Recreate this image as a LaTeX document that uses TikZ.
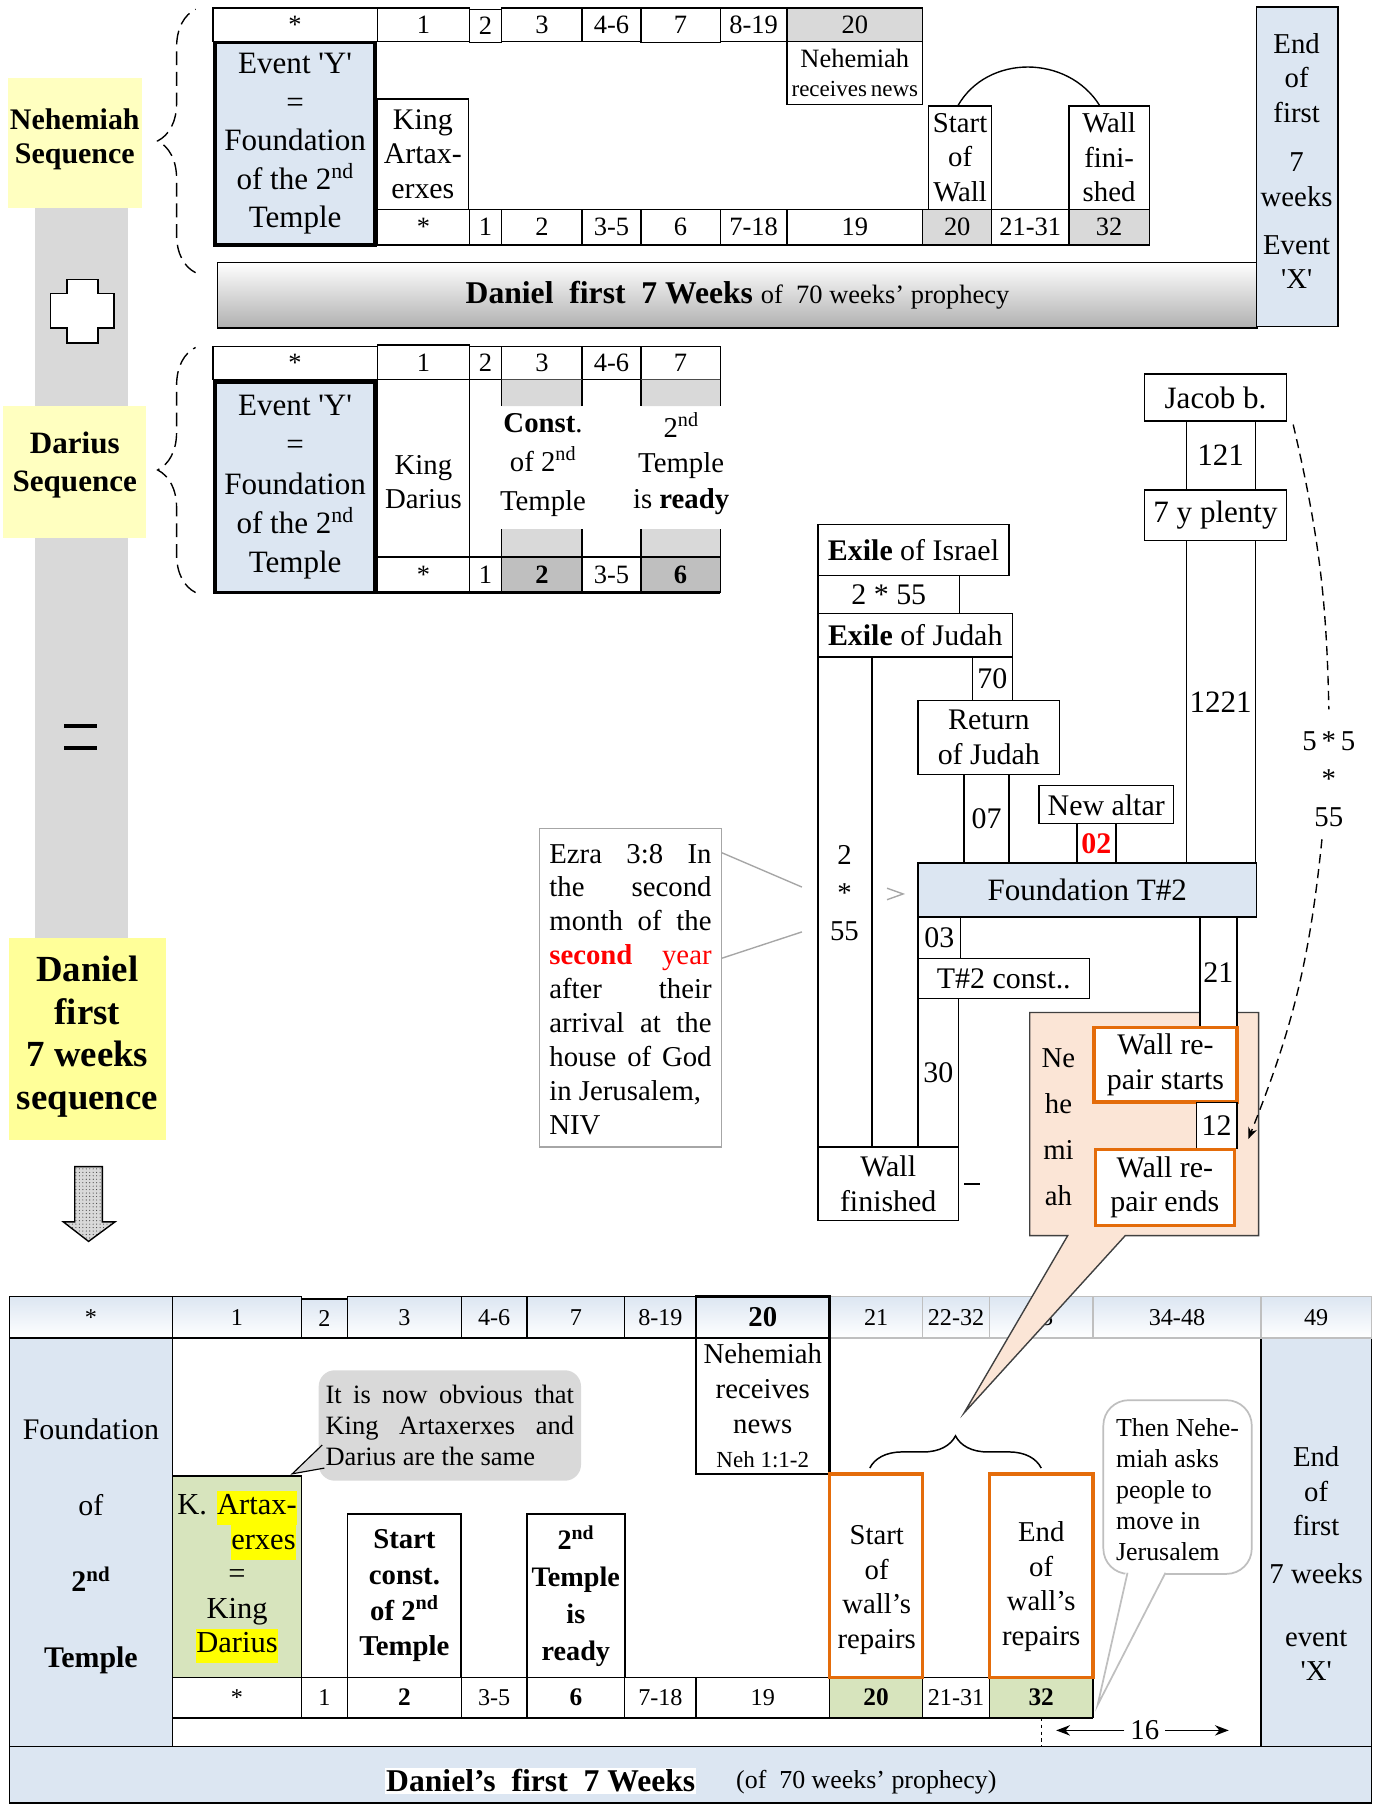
\documentclass[tikz,border=0pt]{standalone}
\usepackage{fontspec}
\setmainfont{Liberation Serif}
\usetikzlibrary{decorations.pathreplacing,patterns,arrows.meta}
\definecolor{lblue}{HTML}{DCE6F2}
\definecolor{yelA}{HTML}{FFFFC0}
\definecolor{yelB}{HTML}{FFFF99}
\definecolor{grA}{HTML}{D9D9D9}
\definecolor{grB}{HTML}{BFBFBF}
\definecolor{grC}{HTML}{A6A6A6}
\definecolor{gbot}{HTML}{B0B0B0}
\definecolor{peach}{HTML}{FBE5D6}
\definecolor{orng}{HTML}{E46C0A}
\definecolor{lgreen}{HTML}{D7E4BD}
\definecolor{hlyel}{HTML}{FFFF00}
\newcommand\fs[2]{\fontsize{#1}{#2}\selectfont}
\newcommand\tq{\textquotesingle}
\newcommand\hlt[1]{{\setlength{\fboxsep}{0pt}\colorbox{hlyel}{\strut #1}}}
\newcommand\jl[2]{\makebox[#1pt][s]{#2}}
\newcommand\cb[7][]{\node[box,minimum width={(#5-#3)*1pt},minimum height={(#6-#4)*1pt},#1] (#2) at ({(#3+#5)/2},{(#4+#6)/2}) {#7};}
\tikzset{
  box/.style={draw, line width=1.2pt, fill=white, inner sep=0pt, outer sep=0pt, align=center, font=\fs{25}{30}},
  hd/.style={font=\fs{23}{28}},
  thk/.style={line width=3pt},
  orb/.style={draw=orng, line width=3pt},
  txt/.style={inner sep=0pt, align=center, font=\fs{25}{30}},
  dbrace/.style={decorate, decoration={brace, amplitude=33pt}, dash pattern=on 12pt off 6pt, line width=1.2pt},
  hg/.style={top color=lblue, bottom color=white, font=\fs{21}{26}},
  brw/.style={font=\fs{21}{26}},
  brb/.style={font=\fs{22}{26}\bfseries},
  dsh/.style={dash pattern=on 8pt off 5pt, line width=1.2pt},
}
\begin{document}
\begin{tikzpicture}[x=1pt,y=-1pt]
\useasboundingbox (0,0) rectangle (1193,1568);
% ---------------- left column
\fill[grA] (30,181) rectangle (111,815);
\cb[draw=none,fill=yelA]{nehbox}{7}{68}{123}{181}{}
\node[txt,font=\fs{26}{30}\bfseries] (nehtx) at (65,121) {Nehemiah\\Sequence};
\cb[draw=none,fill=yelA]{darbox}{3}{353}{127}{468}{}
\node[txt,font=\fs{27}{33}\bfseries] (dartx) at (65,404) {Darius\\Sequence};
\cb[draw=none,fill=yelB]{danbox}{8}{815}{144}{991}{}
\node[txt,font=\fs{32}{37}\bfseries] (dantx) at (76,901) {Daniel\\first\\7 weeks\\sequence};
\draw[fill=white, line width=1.5pt] (58,243) -- (85,243) -- (85,255) -- (99,255) -- (99,285) -- (85,285) -- (85,298) -- (58,298) -- (58,285) -- (44,285) -- (44,255) -- (58,255) -- cycle;
\draw[line width=3pt] (56,631) -- (84,631) (56,650) -- (84,650);
\fill[grA] (65,1014) -- (89,1014) -- (89,1062) -- (100,1062) -- (77,1079) -- (55,1062) -- (65,1062) -- cycle;
\draw[pattern=dots, pattern color=black!75, line width=1.2pt] (65,1014) -- (89,1014) -- (89,1062) -- (100,1062) -- (77,1079) -- (55,1062) -- (65,1062) -- cycle;
% ---------------- top table (Nehemiah)
\draw[dbrace] (170,237) -- (170,8);
\cb[hd]{ah0}{185}{7}{328}{36}{*}
\cb[hd]{ah1}{328}{7}{408}{36}{1}
\cb[hd]{ah2}{408}{8}{436}{37}{2}
\cb[hd]{ah3}{436}{7}{506}{36}{3}
\cb[hd]{ah4}{506}{7}{557}{36}{4-6}
\cb[hd]{ah5}{557}{7}{626}{37}{7}
\cb[hd]{ah6}{626}{7}{684}{36}{8-19}
\cb[hd,fill=grA]{ah7}{684}{7}{802}{36}{20}
\cb[thk,fill=lblue,font=\fs{27}{33.5}]{aev}{187}{37}{326}{213}{Event \tq Y\tq\\=\\Foundation\\of the 2\textsuperscript{nd}\\Temple}
\cb[font=\fs{26}{30}]{aking}{328}{86}{407}{182}{King\\Artax-\\erxes}
\cb[font=\fs{23}{25}]{anr}{684}{36}{802}{91}{Nehemiah\\{\fs{20}{25}receives\,news}}
\cb{asw}{807}{92}{862}{182}{Start\\of\\Wall}
\cb{awf}{929}{92}{999}{182}{Wall\\fini-\\shed}
\draw[line width=1.2pt] ([xshift=-2pt]asw.north) .. controls (858,47) and (928,47) .. ([xshift=-8pt]awf.north);
\cb[hd]{ab0}{328}{182}{408}{213}{*}
\cb[hd]{ab1}{408}{182}{436}{213}{1}
\cb[hd]{ab2}{436}{182}{506}{213}{2}
\cb[hd]{ab3}{506}{182}{557}{213}{3-5}
\cb[hd]{ab4}{557}{182}{626}{213}{6}
\cb[hd]{ab5}{626}{182}{684}{213}{7-18}
\cb[hd]{ab6}{684}{182}{802}{213}{19}
\cb[hd,fill=grA]{ab7}{802}{182}{862}{213}{20}
\cb[hd]{ab8}{862}{182}{929}{213}{21-31}
\cb[hd,fill=grA]{ab9}{929}{182}{999}{213}{32}
\draw[line width=2.2pt] (ab0.south west) -- (ab9.south east);
\cb[top color=white, bottom color=gbot, font=\fs{27.5}{30}]{adan}{189}{228}{1093}{285}{{\bfseries Daniel\ \ first\ \ 7 Weeks} {\fs{23}{30}of\ \ 70 weeks’ prophecy}}
\cb[fill=lblue]{aend}{1092}{6}{1163}{284}{}
\node[txt] (aendtx) at (1127,140) {End\\of\\first\\[13pt]7\\weeks\\[12pt]Event\\\tq X\tq};
% ---------------- Darius table
\draw[dbrace] (170,515) -- (170,302);
\cb[hd]{bh0}{185}{301}{328}{330}{*}
\cb[hd]{bh1}{328}{300}{408}{330}{1}
\cb[hd]{bh2}{408}{301}{436}{330}{2}
\cb[hd]{bh3}{436}{301}{506}{330}{3}
\cb[hd]{bh4}{506}{301}{557}{330}{4-6}
\cb[hd]{bh5}{557}{301}{626}{330}{7}
\cb[thk,fill=lblue,font=\fs{27}{34}]{bev}{187}{332}{326}{515}{Event \tq Y\tq\\=\\Foundation\\of the 2\textsuperscript{nd}\\Temple}
\cb[fill=none]{bkd}{328}{330}{408}{484}{}
\node[txt] (bkdtx) at (368,419) {King\\Darius};
\fill[grA] (436,330) rectangle (506,353) (557,330) rectangle (626,353) (436,460) rectangle (506,484) (557,460) rectangle (626,484);
\draw[line width=1.2pt] (436,330) -- (436,353) (506,330) -- (506,353) (557,330) -- (557,353) (626,330) -- (626,353) (436,460) -- (436,484) (506,460) -- (506,484) (557,460) -- (557,484) (626,460) -- (626,484);
\node[txt,font=\fs{25}{34}] (bconst) at (472,404) {{\bfseries Const}.\\of 2\textsuperscript{nd}\\Temple};
\node[txt,font=\fs{25}{31}] (bready) at (592,403) {2\textsuperscript{nd}\\Temple\\is \textbf{ready}};
\cb[hd]{bb0}{328}{484}{408}{515}{*}
\cb[hd]{bb1}{408}{484}{436}{515}{1}
\cb[hd,fill=grB,font=\fs{23}{28}\bfseries]{bb2}{436}{484}{506}{515}{2}
\cb[hd]{bb3}{506}{484}{557}{515}{3-5}
\cb[hd,fill=grB,font=\fs{23}{28}\bfseries]{bb4}{557}{484}{626}{515}{6}
\draw[line width=2.2pt] (bb0.south west) -- (bb4.south east);
% ---------------- right chart
\cb[font=\fs{27}{30}]{jac}{995}{325}{1118}{366}{Jacob b.}
\cb[font=\fs{27}{30}]{c121}{1031}{366}{1091}{426}{121}
\cb[font=\fs{27}{30}]{plenty}{995}{426}{1118}{470}{7 y plenty}
\cb[font=\fs{27}{30}]{c1221}{1031}{470}{1091}{750}{1221}
\cb[font=\fs{26}{30}]{exisr}{711}{456}{877}{500}{\textbf{Exile} of Israel}
\cb[font=\fs{26}{30}]{c255}{711}{500}{834}{533}{2 * 55}
\cb[font=\fs{26}{30}]{exjud}{711}{533}{880}{571}{\textbf{Exile} of Judah}
\cb{c255v}{711}{571}{758}{997}{}
\node[txt,font=\fs{25}{33}] (c255vt) at (734,776) {2\\*\\55};
\cb[font=\fs{26}{30}]{c70}{845}{571}{880}{609}{70}
\cb[font=\fs{26}{30}]{retj}{798}{609}{921}{673}{Return\\of Judah}
\cb[font=\fs{26}{30}]{c07}{838}{673}{877}{750}{07}
\cb[font=\fs{26}{30}]{nalt}{903}{683}{1020}{716}{New altar}
\cb[font=\fs{26}{30}\bfseries, text=red]{c02}{936}{716}{970}{750}{02}
\cb[fill=lblue,font=\fs{27}{30}]{fnd}{798}{750}{1092}{797}{Foundation T\#2}
\cb[font=\fs{26}{30}]{c03}{798}{797}{835}{833}{03}
\cb[font=\fs{26}{30}]{tcon}{798}{833}{947}{868}{T\#2 const..}
\cb[font=\fs{26}{30}]{c30}{798}{868}{833}{997}{30}
\cb[font=\fs{26}{30}]{wfin}{711}{997}{833}{1061}{Wall\\finished}
\draw[line width=1.2pt] (838,1029) -- (852,1029);
\draw[grC, line width=1.2pt] (771,772) -- (785,777) -- (771,782);
% ---------------- Ezra callout
\cb[draw=grC, line width=1.5pt]{ezra}{469}{720}{627}{997}{}
\node[inner sep=0pt, align=left, font=\fs{25}{29.5}] (ezratx) at (548,860) {\jl{141}{Ezra\ \ 3:8\ \ In}\\\jl{141}{the second}\\\jl{141}{month of the}\\\jl{141}{{\color{red}\textbf{second} year}}\\\jl{141}{after their}\\\jl{141}{arrival at the}\\\jl{141}{house of God}\\in Jerusalem,\\NIV};
\coordinate (ezb1) at (627,741);
\coordinate (ezb2) at (627,833);
\coordinate (ezp1) at (697,771);
\coordinate (ezp2) at (697,810);
\draw[grC, line width=1.2pt] (ezb1) -- (ezp1);
\draw[grC, line width=1.2pt] (ezb2) -- (ezp2);
% ---------------- bottom table
\cb[fill=lblue]{blc}{8}{1163}{150}{1518}{}
\node[txt,font=\fs{26}{66}] (blctx) at (79,1344) {Foundation\\of\\\textbf{2\textsuperscript{nd}}\\\textbf{Temple}};
\cb[fill=lblue]{brc}{1096}{1163}{1192}{1518}{}
\node[txt] (brctx) at (1144,1359) {End\\of\\first\\[12pt]7 weeks\\[24pt]event\\\tq X\tq};
\cb[fill=lblue]{bbar}{8}{1518}{1192}{1567}{}
\node[fill=white, inner sep=1pt, font=\fs{27.5}{32}\bfseries] (bbartx) at (470,1548) {Daniel’s\ \ first\ \ 7 Weeks};
\node[inner sep=0pt, font=\fs{22.5}{28}] (bbartx2) at (753,1549) {(of\ \ 70 weeks’ prophecy)};
\cb[hg]{ch0}{8}{1127}{150}{1163}{*}
\cb[hg]{ch1}{150}{1127}{262}{1163}{1}
\cb[hg]{ch2}{262}{1129}{302}{1163}{2}
\cb[hg]{ch3}{302}{1127}{401}{1163}{3}
\cb[hg]{ch4}{401}{1127}{458}{1163}{4-6}
\cb[hg]{ch5}{458}{1127}{543}{1163}{7}
\cb[hg]{ch6}{543}{1127}{605}{1163}{8-19}
\cb[hg,draw=grB]{ch8}{721}{1127}{802}{1163}{21}
\cb[hg,draw=grB]{ch9}{802}{1127}{860}{1163}{22-32}
\cb[hg,draw=grB]{ch10}{860}{1127}{950}{1163}{33}
\cb[hg,draw=grB]{ch11}{950}{1127}{1096}{1163}{34-48}
\cb[hg,draw=grB]{ch12}{1096}{1127}{1192}{1163}{49}
\cb[hg,line width=2.2pt,font=\fs{25}{28}\bfseries]{ch7}{605}{1127}{721}{1163}{20}
\cb[line width=2.2pt]{cnr}{605}{1163}{721}{1281}{Nehemiah\\receives\\news\\{\fs{20}{26}Neh 1:1-2}}
\cb[fill=lgreen, line width=1.5pt, font=\fs{26.5}{30}, text width=104pt]{cka}{150}{1283}{262}{1458}{K. \hlt{Artax-}\\\hspace*{46pt}\hlt{erxes}\\=\\King\\\hlt{Darius}}
\node[fill=grA, rounded corners=14pt, minimum width=228pt, minimum height=96pt, inner sep=0pt, font=\fs{23}{27}, align=left] (obv) at (391,1239) {\jl{216}{It\ is now obvious that}\\\jl{216}{King Artaxerxes and}\\Darius are the same};
\coordinate (obvtip) at (254,1281);
\filldraw[fill=grA, draw=black, line width=1pt] (280,1256) -- (obvtip) -- (282,1276);
\cb[font=\fs{25}{31}\bfseries, line width=1.5pt]{csc}{302}{1316}{401}{1458}{Start\\const.\\of 2\textsuperscript{nd}\\Temple}
\cb[font=\fs{24.5}{32}\bfseries, line width=1.5pt]{ctr}{458}{1316}{543}{1458}{2\textsuperscript{nd}\\Temple\\is\\ready}
\cb[brw]{cb0}{150}{1458}{262}{1493}{*}
\cb[brw]{cb1}{262}{1458}{302}{1493}{1}
\cb[brb]{cb2}{302}{1458}{401}{1493}{2}
\cb[brw]{cb3}{401}{1458}{458}{1493}{3-5}
\cb[brb]{cb4}{458}{1458}{543}{1493}{6}
\cb[brw]{cb5}{543}{1458}{605}{1493}{7-18}
\cb[brw]{cb6}{605}{1458}{721}{1493}{19}
\cb[brb,fill=lgreen]{cb7}{721}{1458}{802}{1493}{20}
\cb[brw]{cb8}{802}{1458}{860}{1493}{21-31}
\cb[brb,fill=lgreen]{cb9}{860}{1458}{950}{1493}{32}
\draw[line width=2pt] (cb0.south west) -- (cb9.south east);
\cb[orb]{csw}{721}{1281}{802}{1458}{}
\node[txt] (cswtx) at (762,1382) {Start\\of\\wall’s\\repairs};
\cb[orb]{cew}{860}{1281}{950}{1458}{}
\node[txt] (cewtx) at (905,1379) {End\\of\\wall’s\\repairs};
\coordinate (brl) at (756,1276);
\coordinate (brr) at (905,1276);
\draw[decorate, decoration={brace, amplitude=28pt}, line width=1.3pt] (brl) -- (brr);
\node[draw=grB, fill=white, line width=1.5pt, rounded corners=22pt, minimum width=129pt, minimum height=151pt, inner sep=0pt] (thn) at (1023.5,1292.5) {};
\node[inner sep=0pt, align=left, font=\fs{22.5}{27}] (thntx) at (1023.5,1295) {Then Nehe-\\miah asks\\people to\\move in\\Jerusalem};
\coordinate (thntip) at (954,1482);
\fill[white] (979,1364) -- (thntip) -- (1015,1364) -- cycle;
\draw[grB, line width=1.5pt] (980,1367) -- (thntip) -- (1013,1367);
\draw[dashed, line width=1pt] (cb9.south) -- (cb9.south |- bbar.north);
\node[inner sep=5pt, font=\fs{25}{30}] (n16) at (995,1504) {16};
\coordinate (a16l) at (918,1504);
\coordinate (a16r) at (1068,1504);
\draw[-{Stealth[length=12pt,width=9pt]}, line width=1.2pt] (n16.west) -- (a16l);
\draw[-{Stealth[length=12pt,width=9pt]}, line width=1.2pt] (n16.east) -- (a16r);
% ---------------- peach callout
\coordinate (nehtip) at (838,1228);
\draw[fill=peach, draw=black!75, line width=1.2pt] (895,880) -- (1094,880) -- (1094,1074) -- (978,1074) -- (nehtip) -- (928,1074) -- (895,1074) -- cycle;
\cb[font=\fs{26}{30}]{c21}{1043}{797}{1075}{893}{21}
\cb[orb,font=\fs{26}{30}]{wrs}{951}{893}{1075}{958}{Wall re-\\pair starts}
\cb[font=\fs{26}{30}]{c12}{1040}{958}{1075}{998}{12}
\cb[orb,font=\fs{26}{30}]{wre}{952}{999}{1073}{1065}{Wall re-\\pair ends}
\node[txt,font=\fs{25}{40}] (nehv) at (920,980) {Ne\\he\\mi\\ah};
% ---------------- dashed 5*5*55 arrow
\node[txt,font=\fs{25}{33}] (lab55) at (1155,677) {5\,*\,5\\*\\55};
\coordinate (dtip) at (1085,990);
\draw[dsh] ([shift={(6pt,-3pt)}]jac.south east) to[bend left=6] ([yshift=19pt]lab55.north);
\draw[dsh, -{Stealth[length=10pt,width=8pt]}] ([shift={(-6pt,-11pt)}]lab55.south) to[bend left=8] (dtip);
\end{tikzpicture}
\end{document}
